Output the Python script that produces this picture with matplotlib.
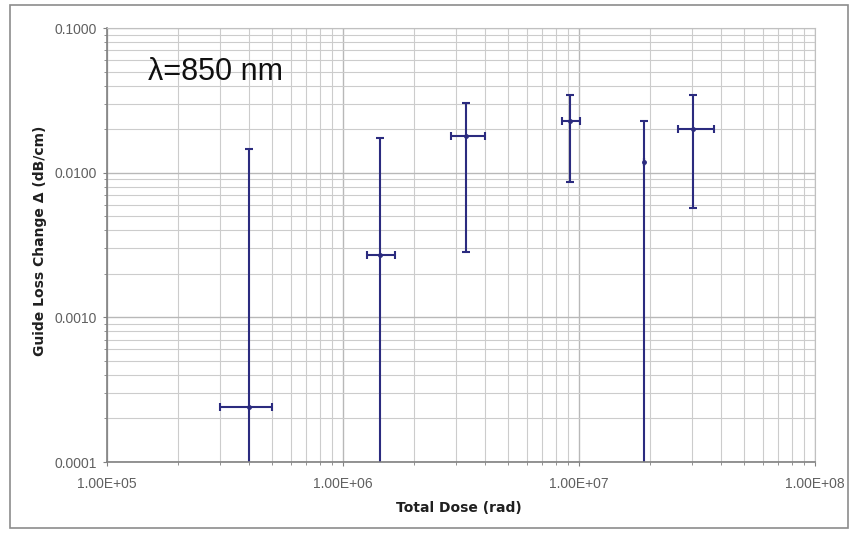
import numpy as np
import matplotlib.pyplot as plt
from matplotlib.ticker import LogLocator, FixedLocator, NullFormatter

plt.rcParams['font.family'] = ['Liberation Sans', 'DejaVu Sans']

# ====================================
# data
# ====================================

dose = [4.0e5, 1.43e6, 3.32e6, 9.2e6, 1.88e7, 3.05e7]
dose_low = [3.0e5, 1.26e6, 2.86e6, 8.5e6, 1.88e7, 2.63e7]
dose_high = [5.0e5, 1.66e6, 4.0e6, 1.01e7, 1.88e7, 3.74e7]

loss = [2.4e-4, 2.7e-3, 0.0179, 0.0227, 0.0118, 0.0200]
# lower ends of the first, second and fifth bars go below the axis
loss_low = [5e-5, 5e-5, 2.84e-3, 8.65e-3, 5e-5, 5.67e-3]
loss_high = [0.0146, 0.0173, 0.0301, 0.0344, 0.0227, 0.0344]

x_ticks = [1e5, 1e6, 1e7, 1e8]
x_tick_labels = ["1.00E+05", "1.00E+06", "1.00E+07", "1.00E+08"]
y_ticks = [1e-4, 1e-3, 1e-2, 1e-1]
y_tick_labels = ["0.0001", "0.0010", "0.0100", "0.1000"]

dose = np.array(dose)
loss = np.array(loss)
xerr = [dose - np.array(dose_low), np.array(dose_high) - dose]
yerr = [loss - np.array(loss_low), np.array(loss_high) - loss]

# ====================================
# figure
# ====================================

fig = plt.figure(figsize=(8.57, 5.35), dpi=100)

# outer chart border
border = plt.Rectangle((10 / 857, 1 - 528 / 535), 838 / 857, 523 / 535,
                       transform=fig.transFigure, fill=False,
                       edgecolor="#8c8c8c", linewidth=1.2)
fig.patches.append(border)

ax = fig.add_axes([107 / 857, 1 - 462 / 535, 708 / 857, 434 / 535])

ax.set_xscale("log")
ax.set_yscale("log")
ax.set_xlim(1e5, 1e8)
ax.set_ylim(1e-4, 1e-1)

ax.errorbar(
    dose, loss,
    xerr=xerr, yerr=yerr,
    fmt='o', markersize=2.5,
    color="#2b2b7f", ecolor="#2b2b7f",
    elinewidth=1.5, capsize=3, capthick=1.5
)

ax.xaxis.set_major_locator(FixedLocator(x_ticks))
ax.set_xticklabels(x_tick_labels)
ax.yaxis.set_major_locator(FixedLocator(y_ticks))
ax.set_yticklabels(y_tick_labels)
ax.xaxis.set_minor_locator(LogLocator(base=10, subs=np.arange(2, 10)))
ax.yaxis.set_minor_locator(LogLocator(base=10, subs=np.arange(2, 10)))
ax.xaxis.set_minor_formatter(NullFormatter())
ax.yaxis.set_minor_formatter(NullFormatter())

ax.grid(True, which="major", color="#b8b8b8", linewidth=1.0)
ax.grid(True, which="minor", color="#cccccc", linewidth=0.8)
ax.set_axisbelow(True)

ax.tick_params(axis="both", which="major", labelsize=10, labelcolor="#606060",
               length=3, color="#808080")
ax.tick_params(axis="both", which="minor", length=2, color="#808080")
ax.tick_params(axis="x", pad=8)
ax.tick_params(axis="y", pad=4)

for side in ["top", "right"]:
    ax.spines[side].set_color("#c0c0c0")
for side in ["left", "bottom"]:
    ax.spines[side].set_color("#808080")
    ax.spines[side].set_linewidth(1.2)

ax.set_xlabel("Total Dose (rad)", fontsize=10, fontweight="bold",
              family="DejaVu Sans", color="#202020")
ax.set_ylabel("Guide Loss Change \u0394 (dB/cm)", fontsize=10,
              fontweight="bold", family="DejaVu Sans", color="#202020")
ax.xaxis.set_label_coords(0.497, -0.09)
ax.yaxis.set_label_coords(-0.085, 0.51)

ax.text(1.49e5, 0.0495, "\u03bb=850 nm", fontsize=22, va="center", ha="left",
        color="#101010")

plt.savefig("out.png", dpi=100)
